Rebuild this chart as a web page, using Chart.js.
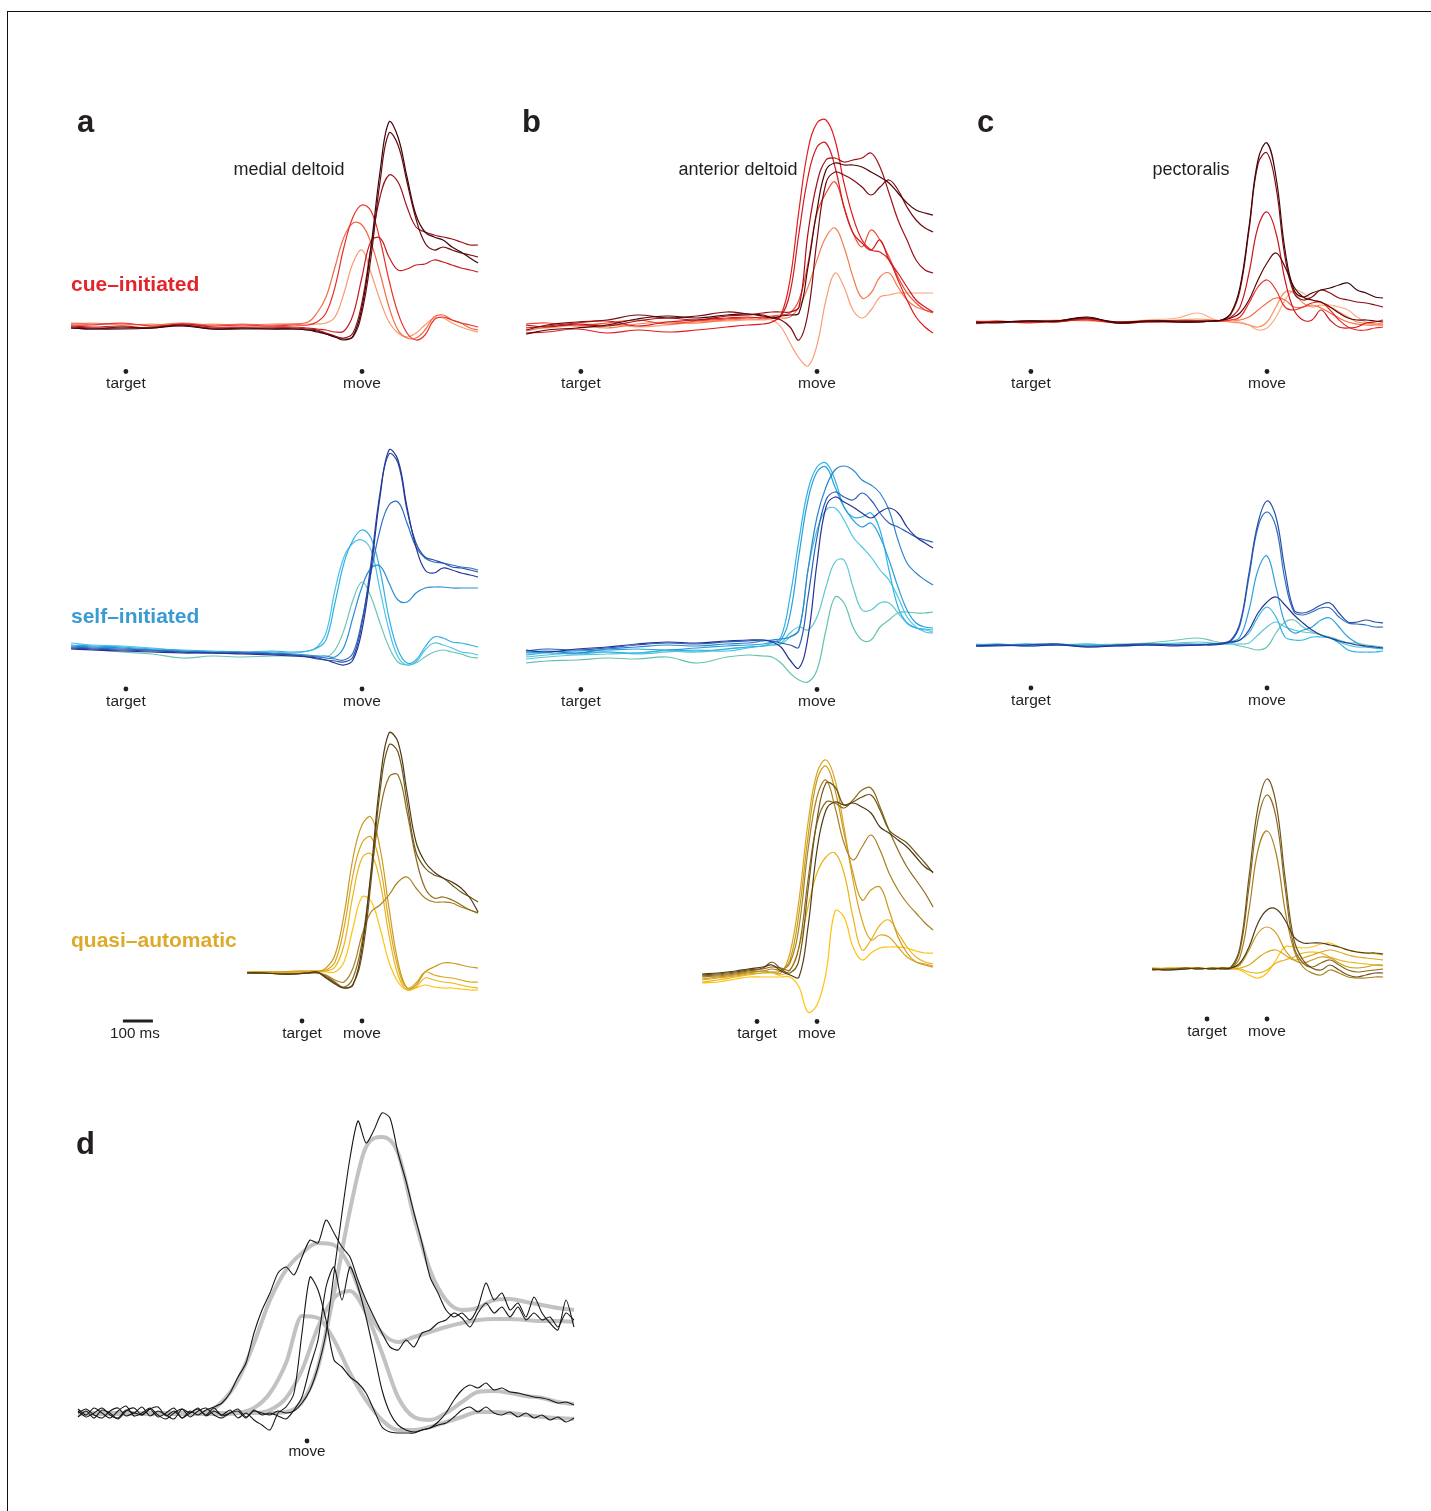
<!DOCTYPE html>
<html>
<head>
<meta charset="utf-8">
<title>EMG traces</title>
<script src="https://cdn.jsdelivr.net/npm/chart.js@4.4.1/dist/chart.umd.min.js"></script>
<style>
    body { margin: 0; background: #fff; width: 1431px; height: 1511px; position: relative; overflow: hidden;
           font-family: "Liberation Sans", Arial, Helvetica, sans-serif; color: #231f20; }
    #frame { position: absolute; left: 7px; top: 11px; right: 0; bottom: 0; border-top: 1px solid #111; border-left: 1px solid #111; }
    canvas { position: absolute; }
    .lbl { position: absolute; line-height: 1; white-space: nowrap; }
</style>
</head>
<body>
<div id="frame"></div>
<script>
// time (ms, relative to movement onset)
const tFull = [-970, -900, -800, -700, -600, -500, -400, -300, -230, -180, -150, -120, -90, -60, -30, 0, 30, 60, 90, 120, 150, 180, 210, 240, 270, 300, 330, 360, 387];
const tShort = [-383, -330, -270, -230, -180, -150, -120, -90, -60, -30, 0, 30, 60, 90, 120, 150, 180, 210, 240, 270, 300, 330, 360, 387];
const tD = [-458, -442, -426, -410, -394, -378, -362, -346, -330, -314, -298, -282, -266, -250, -234, -218, -202, -186, -170, -154, -138, -122, -106, -90, -74, -58, -42, -26, -10, 6, 22, 38, 54, 70, 86, 102, 118, 134, 150, 166, 182, 198, 214, 230, 246, 262, 278, 294, 310, 326, 342, 358, 374, 390, 406, 422, 438, 454, 470, 486, 502, 518, 534];
const tDs = [-458, -426, -394, -362, -330, -298, -266, -234, -202, -170, -138, -106, -74, -42, -10, 22, 54, 86, 118, 150, 182, 214, 246, 278, 310, 342, 374, 406, 438, 470, 502, 534];

// EMG amplitude (a.u.), one array per condition, light to dark
const medialCue = [
    [3, 4, 2, 3, 1, 3, 2, 3, 3, 3, 3, 4, 10, 34, 64, 77, 54, 27, 5, -6, -10, -6, 2, 9, 9, 4, 0, -3, -5],
    [4, 3, 3, 2, 4, 2, 3, 2, 3, 5, 14, 30, 60, 90, 104, 102, 84, 54, 20, -3, -11, -11, -3, 10, 12, 7, 4, -1, -3],
    [2, 2, 4, 1, 3, 1, 2, 1, 2, 2, 5, 14, 40, 80, 110, 122, 116, 87, 47, 14, -6, -13, -8, 7, 10, 7, 4, 2, 0],
    [1, 0, 1, -1, 3, 0, 0, 0, 0, -1, -2, -3, -5, -4, 12, 50, 86, 89, 70, 57, 58, 62, 63, 67, 65, 62, 59, 57, 55],
    [0, -1, -1, 0, 2, -1, -1, -1, -1, -2, -3, -6, -9, -11, -6, 25, 80, 130, 152, 145, 120, 100, 95, 92, 90, 88, 85, 82, 82],
    [-1, -2, 0, -1, 2, -2, -1, -2, -2, -3, -4, -7, -10, -12, -10, 15, 70, 145, 194, 182, 145, 108, 84, 77, 80, 77, 74, 72, 70],
    [-1, -2, -2, -1, 1, -2, -2, -2, -2, -3, -5, -7, -10, -13, -9, 20, 80, 155, 205, 190, 150, 112, 95, 90, 87, 80, 75, 69, 64]
];
const anteriorCue = [
    [3, 2, 5, 6, 3, 5, 8, 9, 10, 10, 10, 3, -13, -28, -36, -15, 30, 57, 43, 20, 12, 20, 33, 35, 37, 37, 37, 37, 37],
    [-1, 3, 5, 2, 6, 8, 7, 10, 11, 11, 12, 12, 13, 23, 43, 70, 93, 102, 83, 53, 32, 37, 53, 57, 43, 30, 23, 20, 18],
    [6, 7, 4, 7, 10, 6, 9, 11, 12, 13, 14, 15, 17, 30, 67, 117, 137, 148, 123, 97, 83, 100, 90, 73, 53, 37, 27, 20, 17],
    [-3, -2, 1, -3, 0, -2, 0, 3, 5, 6, 8, 15, 50, 120, 180, 207, 210, 190, 147, 113, 90, 80, 78, 70, 50, 30, 13, 3, -3],
    [2, 4, 7, 9, 4, 8, 10, 12, 13, 12, 13, 14, 37, 97, 153, 183, 187, 163, 123, 97, 87, 80, 90, 70, 57, 43, 30, 23, 18],
    [5, 3, 6, 4, 9, 12, 10, 14, 15, 17, 18, 18, 18, 23, 97, 147, 170, 172, 168, 170, 172, 177, 163, 137, 110, 90, 70, 60, 57],
    [0, 5, 8, 10, 15, 12, 14, 18, 16, 15, 12, 10, 3, -10, 17, 90, 147, 158, 155, 150, 143, 135, 143, 150, 140, 123, 110, 102, 98],
    [-4, 0, 2, 5, 11, 14, 12, 15, 16, 14, 12, 14, 15, 17, 63, 120, 160, 167, 165, 165, 163, 158, 153, 147, 137, 127, 120, 117, 115]
];
const pectoralisCue = [
    [-2, 0, 1, 2, 1, 0, 2, 4, 9, 3, 1, 0, 0, -3, -8, -6, 5, 22, 32, 29, 22, 19, 17, 15, 12, 5, 0, -2, -3],
    [0, 1, 0, 1, 2, 0, 1, 2, 3, 2, 1, 0, -1, -3, -5, 0, 15, 30, 29, 19, 15, 17, 15, 10, 5, 0, -1, -2, -1],
    [1, 0, 1, 0, 3, -1, 0, 1, 1, 1, 1, 2, 2, 5, 12, 19, 24, 22, 15, 15, 17, 14, 9, 4, 0, -2, -3, -3, -3],
    [0, 1, -1, 1, 2, -1, 1, 1, 1, 1, 1, 2, 5, 19, 35, 42, 32, 15, 12, 15, 19, 20, 12, 2, -5, -8, -8, -6, -5],
    [0, 0, 1, 0, 3, 0, 1, 0, 0, 1, 2, 5, 15, 49, 95, 110, 89, 42, 12, 2, 2, 12, 2, -5, -6, -5, -1, 0, 2],
    [-1, 0, 0, 1, 4, -1, 0, 0, 0, 1, 2, 8, 32, 92, 158, 169, 135, 65, 29, 22, 25, 32, 29, 24, 22, 20, 19, 17, 15],
    [0, -1, 1, 1, 4, 0, 1, 1, 1, 1, 2, 4, 9, 22, 42, 59, 69, 55, 35, 25, 22, 20, 15, 9, 4, 2, 2, 1, 0],
    [-1, 0, 1, 1, 5, -1, 1, 0, 0, 1, 2, 9, 35, 95, 162, 179, 145, 72, 32, 25, 29, 32, 34, 37, 39, 32, 29, 25, 24]
];
const medialSelf = [
    [2, 1, -2, -4, -8, -6, -7, -6, -6, -6, -6, -7, 0, 20, 50, 68, 53, 27, 3, -12, -15, -13, -7, -2, 0, -2, -4, -7, -8],
    [7, 5, 4, 2, -1, -2, -3, -2, -3, -1, 3, 17, 60, 93, 107, 110, 100, 60, 20, -7, -15, -12, 0, 7, 5, 2, -2, -3, -5],
    [5, 4, 3, 1, 0, -1, -2, -1, -2, -1, 2, 10, 47, 87, 110, 120, 112, 80, 32, 0, -13, -10, 3, 13, 12, 8, 7, 5, 3],
    [4, 3, 2, 0, -1, -2, -2, -3, -4, -5, -6, -6, -7, 3, 33, 63, 82, 84, 67, 50, 48, 57, 62, 63, 63, 62, 62, 62, 62],
    [3, 2, 1, 0, -2, -3, -3, -4, -5, -6, -7, -8, -9, -10, -3, 30, 77, 120, 145, 148, 127, 103, 92, 88, 87, 85, 83, 82, 80],
    [2, 1, 0, -1, -2, -3, -3, -4, -5, -7, -9, -10, -11, -12, -7, 27, 87, 157, 196, 187, 140, 107, 93, 90, 87, 83, 82, 80, 78],
    [1, 0, -1, -2, -3, -3, -4, -5, -6, -7, -8, -10, -13, -15, -10, 20, 80, 153, 200, 190, 143, 103, 80, 77, 82, 80, 77, 75, 73]
];
const anteriorSelf = [
    [-8, -6, -5, -3, -4, -2, -8, -2, 0, -1, -2, -8, -18, -25, -27, -15, 25, 58, 52, 28, 15, 15, 28, 35, 42, 43, 42, 42, 43],
    [-4, -2, 0, 1, 2, 4, 3, 6, 8, 9, 10, 12, 22, 28, 25, 38, 68, 93, 95, 68, 45, 45, 52, 52, 42, 32, 27, 25, 23],
    [-2, 0, 2, 3, 1, 3, 5, 4, 7, 9, 10, 11, 18, 25, 85, 125, 145, 147, 135, 118, 108, 98, 85, 75, 58, 38, 28, 23, 22],
    [0, 2, 1, 3, 2, 5, 4, 6, 8, 9, 12, 18, 58, 115, 165, 188, 192, 175, 148, 138, 138, 142, 125, 85, 48, 32, 27, 26, 25],
    [2, 3, 4, 5, 6, 5, 7, 9, 10, 11, 13, 15, 40, 100, 155, 183, 188, 168, 148, 135, 128, 132, 118, 95, 68, 45, 32, 28, 27],
    [3, 4, 2, 6, 8, 10, 9, 11, 12, 14, 15, 16, 18, 25, 85, 138, 168, 185, 189, 185, 175, 170, 162, 145, 115, 92, 82, 75, 70],
    [4, 6, 5, 7, 10, 12, 11, 13, 14, 15, 14, 12, 10, 8, 58, 118, 155, 163, 158, 155, 162, 155, 142, 132, 128, 123, 118, 115, 113],
    [5, 3, 6, 8, 11, 13, 12, 14, 15, 15, 13, 8, -5, -13, 18, 92, 148, 158, 153, 148, 142, 137, 143, 147, 142, 128, 118, 112, 107]
];
const pectoralisSelf = [
    [0, 1, 0, 1, 0, 1, 2, 5, 7, 4, 2, 1, -1, -3, -5, -2, 12, 23, 25, 18, 13, 10, 8, 5, 2, 2, 0, -1, -2],
    [1, 0, 1, 0, 1, 0, 1, 2, 3, 2, 1, 1, 1, 2, 10, 18, 23, 18, 15, 13, 12, 10, 7, 3, 0, -2, -2, -3, -3],
    [0, 1, -1, 0, 1, -1, 0, 1, 1, 1, 1, 2, 5, 12, 28, 38, 28, 8, 5, 5, 8, 8, 7, 2, -5, -7, -7, -7, -6],
    [0, 0, 1, 0, -1, 0, 0, 0, 0, 1, 1, 3, 8, 35, 75, 89, 58, 22, 12, 15, 18, 25, 27, 18, 8, 2, -2, -3, -4],
    [-1, 0, 0, 1, -1, 0, 1, 0, 0, 1, 2, 4, 20, 68, 118, 133, 118, 65, 33, 30, 33, 37, 37, 28, 22, 21, 20, 18, 18],
    [-1, -1, 0, 1, -2, 0, 1, 0, 0, 1, 2, 5, 22, 72, 122, 144, 128, 75, 35, 32, 35, 40, 42, 32, 23, 23, 25, 23, 22],
    [-1, 0, -1, 0, -2, -1, 0, -1, 0, 0, 1, 3, 5, 15, 32, 43, 48, 40, 30, 22, 15, 10, 7, 4, 2, 0, -1, -2, -3]
];
const medialQuasi = [
    [0, 0, 1, 1, 1, 1, 1, 1, 11, 45, 76, 72, 45, 11, -9, -17, -15, -12, -14, -15, -15, -16, -17, -17],
    [1, 1, 1, 1, 2, 2, 2, 6, 28, 78, 115, 119, 91, 38, -2, -17, -14, -5, -7, -9, -10, -12, -14, -15],
    [1, 1, 1, 2, 2, 2, 3, 11, 45, 98, 130, 136, 108, 51, 5, -15, -10, 1, -2, -4, -5, -7, -9, -9],
    [1, 1, 1, 1, 1, 1, 5, 18, 58, 115, 148, 156, 125, 65, 11, -15, -12, 1, 6, 10, 10, 8, 6, 5],
    [0, 0, -1, -1, 0, 0, -2, -7, -9, 5, 38, 61, 68, 78, 91, 96, 85, 75, 71, 71, 70, 66, 63, 60],
    [0, 0, -1, -1, 0, 0, -3, -9, -14, -5, 31, 98, 161, 196, 198, 161, 115, 85, 75, 76, 73, 68, 63, 60],
    [0, 0, -1, -1, 0, 1, -4, -10, -15, -11, 18, 91, 181, 228, 221, 171, 121, 105, 98, 95, 88, 81, 76, 71],
    [0, 0, -1, -1, 0, 1, -5, -11, -15, -12, 25, 101, 191, 240, 231, 181, 131, 111, 101, 95, 91, 85, 75, 61]
];
const anteriorQuasi = [
    [-6, -5, -2, 0, 0, 0, 0, 0, -10, -35, -28, 4, 66, 60, 30, 17, 24, 29, 30, 30, 29, 26, 24, 24],
    [-5, -3, 0, 2, 4, 4, 2, 7, 30, 70, 104, 120, 124, 104, 60, 27, 37, 52, 57, 44, 30, 20, 15, 13],
    [-3, -1, 1, 3, 4, 5, 4, 24, 77, 154, 204, 217, 197, 150, 97, 57, 37, 42, 40, 30, 20, 15, 13, 11],
    [-2, 0, 2, 4, 6, 5, 6, 17, 64, 140, 197, 211, 187, 144, 104, 77, 87, 90, 67, 40, 24, 15, 12, 10],
    [0, 1, 3, 5, 6, 8, 7, 14, 50, 127, 180, 197, 170, 134, 117, 130, 142, 127, 104, 87, 74, 64, 54, 47],
    [1, 2, 4, 6, 8, 10, 9, 7, 30, 97, 154, 175, 174, 169, 177, 187, 189, 170, 147, 127, 110, 97, 84, 70],
    [2, 3, 5, 7, 9, 15, 8, 4, 17, 87, 157, 194, 190, 172, 175, 180, 182, 167, 147, 140, 134, 124, 114, 104],
    [3, 4, 6, 8, 10, 12, 6, 2, 0, 50, 127, 167, 175, 172, 174, 170, 164, 150, 144, 137, 130, 120, 110, 105]
];
const pectoralisQuasi = [
    [0, 1, 0, 1, 0, 1, 0, -1, -6, -9, -4, 9, 22, 22, 21, 22, 25, 26, 22, 19, 17, 16, 15, 14],
    [1, 0, 1, 0, 1, 0, 1, 0, -3, -4, -1, 6, 9, 12, 16, 17, 16, 12, 9, 7, 6, 5, 4, 3],
    [0, 1, 1, 0, 1, 1, 0, 1, 4, 11, 17, 19, 14, 9, 11, 14, 17, 19, 17, 14, 12, 11, 10, 9],
    [1, 0, 1, 1, 0, 1, 1, 4, 19, 36, 42, 36, 19, 9, 6, 9, 12, 11, 6, 2, 1, 2, 4, 4],
    [-1, 0, 1, 0, 1, 0, 1, 12, 59, 119, 138, 116, 59, 19, 2, -4, -6, -1, -4, -8, -9, -9, -8, -8],
    [-1, 0, 0, 1, 0, 1, 1, 19, 82, 149, 174, 152, 82, 22, 6, 2, 6, 9, 4, -1, -3, -2, -1, 0],
    [0, -1, 1, 0, 1, 0, 2, 22, 92, 162, 190, 166, 92, 29, 9, 1, -1, 4, -1, -6, -8, -6, -4, -4],
    [0, -1, 0, 1, 0, 1, 1, 6, 22, 46, 59, 60, 49, 32, 26, 26, 26, 24, 22, 19, 17, 16, 16, 15]
];

// panel d: single trials (black) and their averages (grey)
const singleTrials = [
    [4, -2, 5, 0, -5, 2, 7, -3, 0, 5, -2, -6, 0, 4, -4, 2, 5, -2, -5, 0, 4, -4, 2, 0, -2, 2, 0, 2, 10, 23, 46, 80, 140, 200, 255, 292, 270, 283, 300, 295, 260, 232, 200, 170, 136, 120, 103, 96, 100, 93, 106, 130, 113, 120, 103, 110, 96, 116, 100, 90, 83, 113, 86],
    [-4, 2, -5, 3, 0, -6, 2, 5, -2, 4, -4, 0, 5, -5, 2, -2, 3, 6, 10, 20, 36, 50, 80, 103, 120, 140, 146, 138, 156, 173, 170, 193, 180, 166, 156, 133, 113, 96, 80, 66, 63, 73, 66, 80, 83, 90, 93, 100, 95, 86, 100, 110, 100, 106, 96, 106, 93, 100, 93, 96, 86, 100, 93],
    [2, -4, 0, 5, -2, -5, 3, 0, 6, -3, 2, -2, -6, 4, 0, 5, -3, 2, -2, 3, -5, 0, -7, -12, -17, 0, 6, 20, 80, 136, 123, 93, 53, 46, 36, 30, 20, 3, -14, -19, -20, -20, -20, -17, -15, -12, -10, -4, 3, 6, 1, 6, 0, -2, 1, -4, 0, -5, -2, -7, -4, -9, -5],
    [0, 4, -2, -5, 2, 5, -3, 0, -2, 4, 6, -3, 2, -5, 0, 4, -2, 5, -3, 0, 2, -5, 3, -2, 0, -3, -6, 3, 16, 46, 73, 126, 146, 113, 146, 126, 96, 60, 23, 0, -12, -17, -19, -17, -15, -9, 0, 13, 23, 28, 25, 30, 23, 25, 21, 20, 18, 16, 15, 13, 10, 11, 8]
];
const meanTraces = [
    [0, 0, 0, 0, 0, 0, 0, 0, 0, 0, 0, 0, 0, 1, 11, 46, 120, 203, 266, 276, 260, 196, 143, 113, 103, 105, 113, 114, 111, 108, 105, 103],
    [0, 0, 0, 0, 0, 0, 0, 0, 1, 11, 33, 70, 113, 143, 160, 170, 168, 146, 106, 80, 71, 76, 81, 86, 90, 93, 94, 94, 93, 92, 92, 91],
    [-1, -1, -1, -1, -1, -1, -1, -1, -1, -1, 0, 5, 20, 50, 97, 95, 73, 40, 13, -7, -17, -17, -14, -9, -4, 1, 1, 0, -2, -4, -5, -6],
    [0, 0, 0, 0, 0, 0, 0, 0, 0, 0, 0, 0, 3, 15, 43, 86, 115, 122, 100, 60, 16, -4, -7, 0, 11, 21, 22, 20, 17, 15, 11, 9]
];

const red7 = ['#fa9a70', '#f26a44', '#e8302a', '#cb1b22', '#99141c', '#6b0c10', '#3d0608'];
const red8 = ['#fc9d72', '#f47a4f', '#f04a30', '#e31a1c', '#cf1820', '#a50f15', '#7a0a10', '#4a0508'];
const redPec = ['#fdae8a', '#fc8d59', '#f46d43', '#e8302a', '#cb181d', '#8a0c12', '#5a0508', '#3d0608'];
const blue7 = ['#6cc5b9', '#4dc3e8', '#2fb0e6', '#2a8fd4', '#2f6fc0', '#2c4fa8', '#253494'];
const blue8 = ['#62c2b0', '#5cc8d0', '#4cc4e6', '#2fb2e8', '#289fdc', '#2a86d0', '#2c5fb5', '#253494'];
const bluePec = ['#6cc5b9', '#5cc6d6', '#33b5e5', '#2fa0e0', '#2f6fc0', '#2c4fa8', '#253494'];
const gold8 = ['#ffc20e', '#eab417', '#dba61c', '#c99a1e', '#a8801f', '#8c6a1d', '#6f551a', '#4f3a14'];

const PX_PER_MS = 0.3;

const markerPlugin = {
    id: 'markers',
    afterDraw: function(chart, args, opts) {
        const ctx = chart.ctx;
        const x = chart.scales.x;
        ctx.save();
        ctx.fillStyle = '#231f20';
        (opts.times || []).forEach(function(t) {
            ctx.beginPath();
            ctx.arc(x.getPixelForValue(t), opts.dotY, 2.4, 0, Math.PI * 2);
            ctx.fill();
        });
        if (opts.scaleBar) {
            ctx.strokeStyle = '#231f20';
            ctx.lineWidth = 3;
            ctx.beginPath();
            ctx.moveTo(x.getPixelForValue(opts.scaleBar[0]), opts.dotY);
            ctx.lineTo(x.getPixelForValue(opts.scaleBar[1]), opts.dotY);
            ctx.stroke();
        }
        ctx.restore();
    }
};

function addText(text, x, baseline, size, opts) {
    opts = opts || {};
    const el = document.createElement('div');
    el.className = 'lbl';
    el.textContent = text;
    el.style.fontSize = size + 'px';
    el.style.left = x + 'px';
    el.style.top = (baseline - 0.8465 * size) + 'px';
    if (opts.center) el.style.transform = 'translateX(-50%)';
    if (opts.bold) el.style.fontWeight = 'bold';
    if (opts.color) el.style.color = opts.color;
    document.body.appendChild(el);
}

function makeCanvas(left, top, w, h) {
    const canvas = document.createElement('canvas');
    canvas.width = w;
    canvas.height = h;
    canvas.style.left = left + 'px';
    canvas.style.top = top + 'px';
    canvas.style.width = w + 'px';
    canvas.style.height = h + 'px';
    document.body.appendChild(canvas);
    return canvas;
}

function initPanel(p) {
    const left = p.moveX - 300, top = p.baseY - 250, w = 440, h = 320;
    const canvas = makeCanvas(left, top, w, h);
    const markerTimes = [p.target, 0];

    const chart = new Chart(canvas.getContext('2d'), {
        type: 'line',
        data: {
            datasets: p.traces.map(function(ys, i) {
                return {
                    data: ys.map(function(y, k) { return { x: p.times[k], y: y }; }),
                    borderColor: p.colors[i],
                    borderWidth: 1.2,
                    pointRadius: 0,
                    tension: 0.4,
                    fill: false,
                    order: p.traces.length - i
                };
            })
        },
        options: {
            responsive: false,
            animation: false,
            events: [],
            layout: { padding: 0 },
            scales: {
                x: { type: 'linear', display: false, min: -300 / PX_PER_MS, max: 140 / PX_PER_MS },
                y: { display: false, min: -70, max: 250 }
            },
            plugins: {
                legend: { display: false },
                tooltip: { enabled: false },
                markers: {
                    times: markerTimes,
                    dotY: p.dotY - top,
                    scaleBar: p.scaleBar ? [-797, -697] : null
                }
            }
        },
        plugins: [markerPlugin]
    });

    const xs = chart.scales.x;
    addText('target', left + xs.getPixelForValue(p.target), p.textY, 15.5, { center: true });
    addText('move', left + xs.getPixelForValue(0), p.textY, 15.5, { center: true });
    if (p.scaleBar) {
        addText('100 ms', left + xs.getPixelForValue(-757), p.textY, 15.2, { center: true });
    }
}

function initTrialPanel() {
    const left = 70, top = 1095, w = 515, h = 380, moveX = 307, baseY = 1413;
    const canvas = makeCanvas(left, top, w, h);
    const datasets = [];
    meanTraces.forEach(function(ys) {
        datasets.push({
            data: ys.map(function(y, k) { return { x: tDs[k], y: y }; }),
            borderColor: '#c2c2c2',
            borderWidth: 4,
            pointRadius: 0,
            cubicInterpolationMode: 'monotone',
            order: 2
        });
    });
    singleTrials.forEach(function(ys) {
        datasets.push({
            data: ys.map(function(y, k) { return { x: tD[k], y: y }; }),
            borderColor: '#161616',
            borderWidth: 1.1,
            pointRadius: 0,
            tension: 0.25,
            order: 1
        });
    });

    const chart = new Chart(canvas.getContext('2d'), {
        type: 'line',
        data: { datasets: datasets },
        options: {
            responsive: false,
            animation: false,
            events: [],
            layout: { padding: 0 },
            scales: {
                x: { type: 'linear', display: false, min: (left - moveX) / 0.5, max: (left + w - moveX) / 0.5 },
                y: { display: false, min: baseY - (top + h), max: baseY - top }
            },
            plugins: {
                legend: { display: false },
                tooltip: { enabled: false },
                markers: { times: [0], dotY: 1441 - top }
            }
        },
        plugins: [markerPlugin]
    });
    addText('move', left + chart.scales.x.getPixelForValue(0), 1456, 15.2, { center: true });
}

document.addEventListener('DOMContentLoaded', function() {
    const panels = [
        { traces: medialCue, colors: red7, times: tFull, moveX: 362, baseY: 327, dotY: 371.5, textY: 388, target: -787 },
        { traces: anteriorCue, colors: red8, times: tFull, moveX: 817, baseY: 330, dotY: 371.5, textY: 388, target: -787 },
        { traces: pectoralisCue, colors: redPec, times: tFull, moveX: 1267, baseY: 322, dotY: 371.5, textY: 388, target: -787 },
        { traces: medialSelf, colors: blue7, times: tFull, moveX: 362, baseY: 650, dotY: 689, textY: 706, target: -787 },
        { traces: anteriorSelf, colors: blue8, times: tFull, moveX: 817, baseY: 655, dotY: 689.5, textY: 706.5, target: -787 },
        { traces: pectoralisSelf, colors: bluePec, times: tFull, moveX: 1267, baseY: 645, dotY: 688, textY: 705, target: -787 },
        { traces: medialQuasi, colors: gold8, times: tShort, moveX: 362, baseY: 973, dotY: 1021, textY: 1038, target: -200, scaleBar: true },
        { traces: anteriorQuasi, colors: gold8, times: tShort, moveX: 817, baseY: 977, dotY: 1021.5, textY: 1038, target: -200 },
        { traces: pectoralisQuasi, colors: gold8, times: tShort, moveX: 1267, baseY: 969, dotY: 1019, textY: 1036, target: -200 }
    ];
    panels.forEach(initPanel);
    initTrialPanel();

    addText('a', 77, 132, 31, { bold: true });
    addText('b', 522, 132, 31, { bold: true });
    addText('c', 977, 132, 31, { bold: true });
    addText('d', 76, 1154, 31, { bold: true });

    addText('medial deltoid', 289, 175, 18, { center: true });
    addText('anterior deltoid', 738, 175, 18, { center: true });
    addText('pectoralis', 1191, 175, 18, { center: true });

    addText('cue\u2013initiated', 71, 291, 21, { bold: true, color: '#e3242b' });
    addText('self\u2013initiated', 71, 623, 21, { bold: true, color: '#3a9ad3' });
    addText('quasi\u2013automatic', 71, 947, 21, { bold: true, color: '#dcab2c' });
});
</script>
</body>
</html>
